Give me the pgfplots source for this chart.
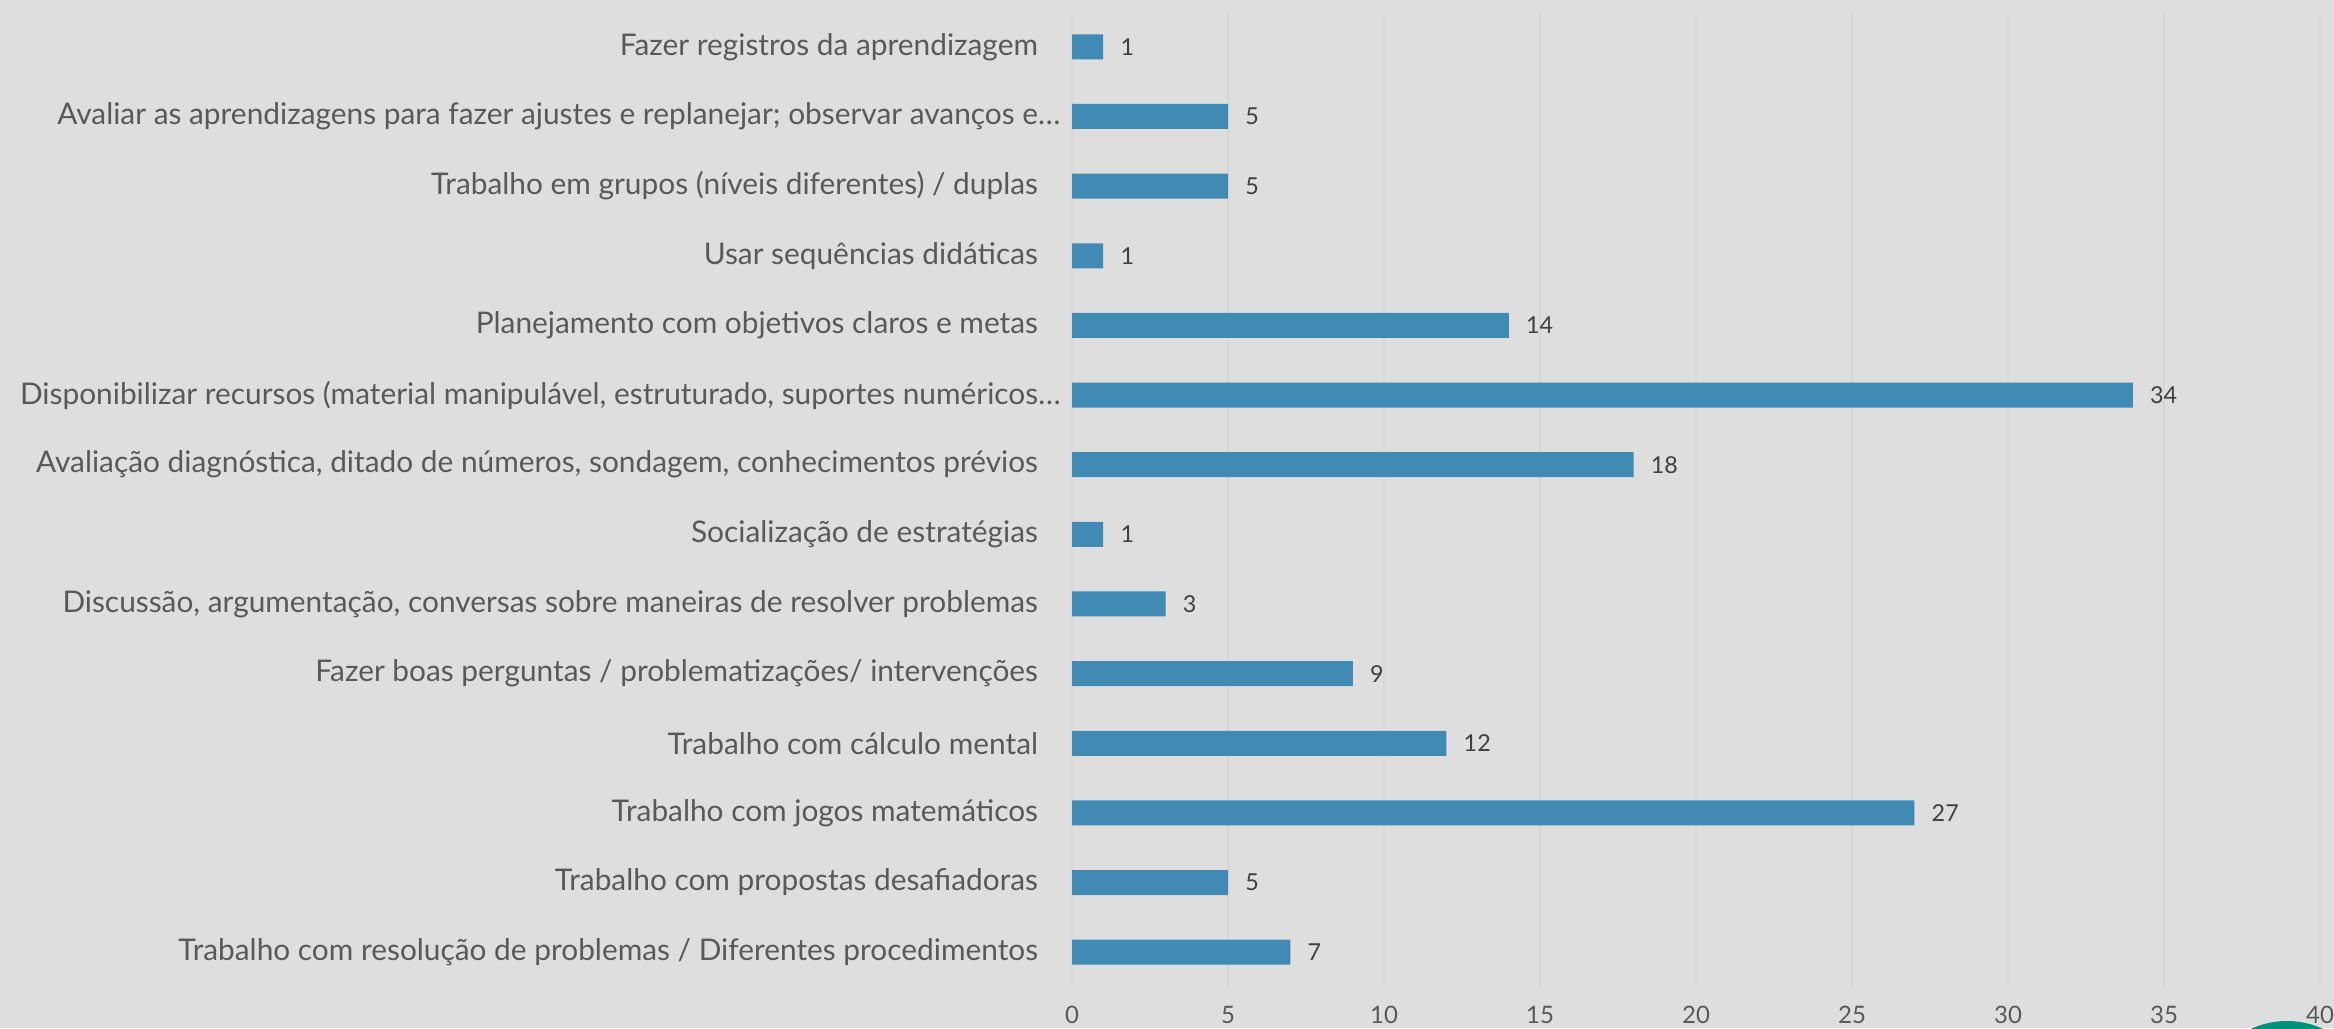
\documentclass[border=0pt]{standalone}
\usepackage{pgfplots}
\pgfplotsset{compat=1.18}
\usepackage{fontspec}
\setmainfont{Lato}
\definecolor{bg}{RGB}{222,222,222}
\definecolor{barc}{RGB}{65,138,179}
\definecolor{labc}{RGB}{89,89,89}
\definecolor{valc}{RGB}{64,64,64}
\definecolor{gridc}{RGB}{214,214,214}
\definecolor{tealc}{RGB}{0,145,125}
\pgfplotstableread[col sep=comma]{
y,v
0,7
1,5
2,27
3,12
4,9
5,3
6,1
7,18
8,34
9,14
10,1
11,5
12,5
13,1
}\datatab
\begin{document}
\begin{tikzpicture}
\useasboundingbox (0,0) rectangle (700.2pt,308.4pt);
\clip (0,0) rectangle (700.2pt,308.4pt);
\fill[bg] (0,0) rectangle (700.2pt,308.4pt);
\begin{axis}[
  at={(321.6pt,12.3pt)}, anchor=south west,
  scale only axis, width=374.4pt, height=292.5pt,
  xbar, bar width=7.5pt,
  xmin=0, xmax=40, ymin=-0.5, ymax=13.5,
  xtick={0,5,...,40},
  ytick={0,...,13},
  yticklabels={
    Trabalho com resolução de problemas / Diferentes procedimentos,
    Trabalho com propostas desafiadoras,
    Trabalho com jogos matemáticos,
    Trabalho com cálculo mental,
    Fazer boas perguntas / problematizações/ intervenções,
    {Discussão, argumentação, conversas sobre maneiras de resolver problemas},
    Socialização de estratégias,
    {Avaliação diagnóstica, ditado de números, sondagem, conhecimentos prévios},
    {Disponibilizar recursos (material manipulável, estruturado, suportes numéricos\rlap{…}},
    Planejamento com objetivos claros e metas,
    Usar sequências didáticas,
    Trabalho em grupos (níveis diferentes) / duplas,
    {Avaliar as aprendizagens para fazer ajustes e replanejar; observar avanços e\rlap{…}},
    Fazer registros da aprendizagem},
  major tick length=0pt,
  axis line style={draw=none},
  xmajorgrids, major grid style={gridc, line width=0.4pt},
  /pgf/number format/assume math mode=true,
  yticklabel style={font=\fontsize{8.95}{10}\selectfont, text=labc, anchor=east, inner sep=0pt, xshift=-10pt},
  xticklabel style={font=\fontsize{7.2}{8}\selectfont, text=labc, anchor=north, inner sep=0pt, yshift=-5.5pt},
  nodes near coords,
  every node near coord/.append style={font=\fontsize{7}{8}\selectfont, text=valc, anchor=west, inner sep=0pt, xshift=5pt},
]
\addplot[fill=barc, draw=none] table[x=v, y=y] {\datatab};
\end{axis}
\fill[tealc] (686.1pt,-23.7pt) circle (25.8pt);
\end{tikzpicture}
\end{document}
